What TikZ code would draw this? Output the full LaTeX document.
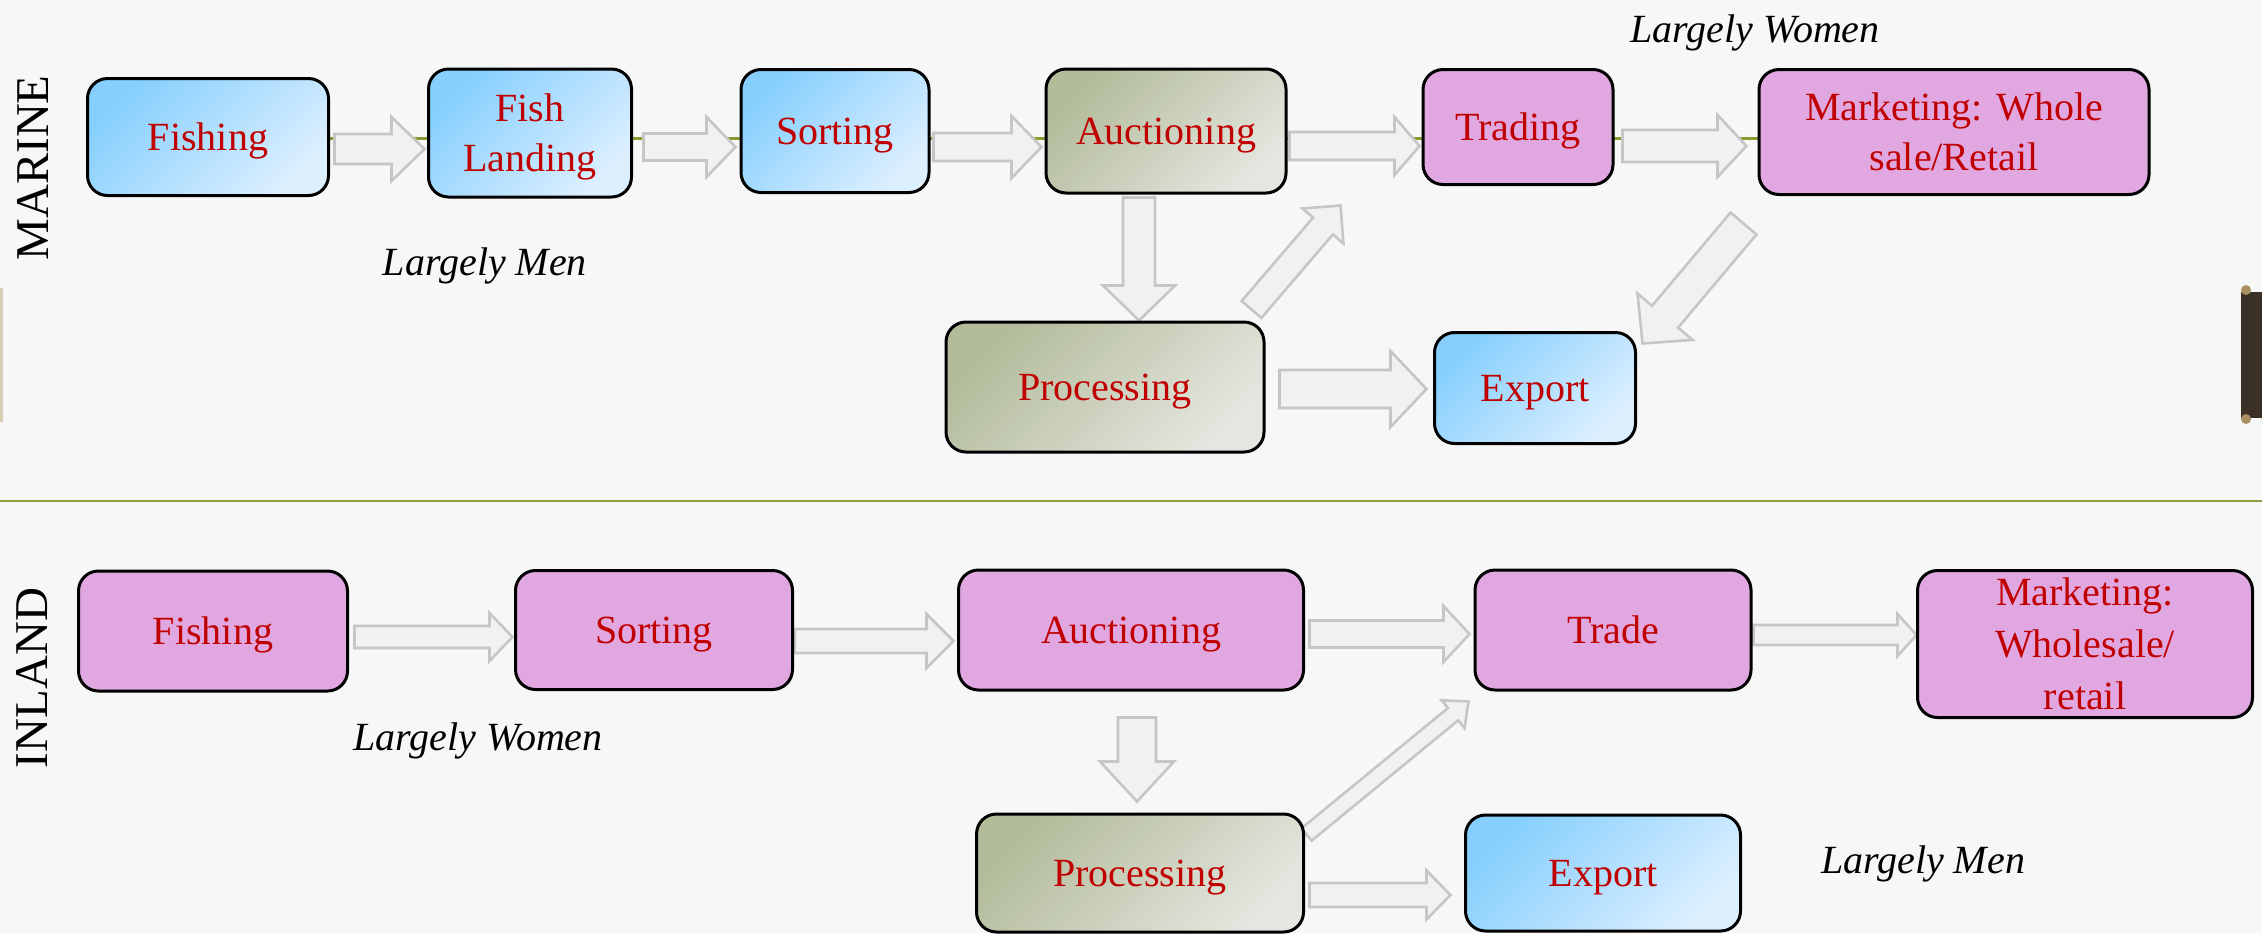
\documentclass[tikz,border=0pt]{standalone}
\usepackage{fontspec}
\setmainfont{Liberation Serif}
\usetikzlibrary{calc}
\definecolor{bgc}{HTML}{F7F7F7}
\definecolor{txtred}{HTML}{C00000}
\definecolor{blueA}{HTML}{86CFFD}
\definecolor{blueB}{HTML}{DCEFFF}
\definecolor{oliveA}{HTML}{B2BB9A}
\definecolor{oliveB}{HTML}{E4E6DF}
\definecolor{pinkc}{HTML}{E1A7E1}
\definecolor{arrfill}{HTML}{F1F1F1}
\definecolor{arrline}{HTML}{C6C6C6}
\definecolor{olivec}{HTML}{8A9A2E}
\definecolor{sepc}{HTML}{8E9E3C}
\definecolor{barc}{HTML}{3A3026}
\definecolor{tanc}{HTML}{A89060}
\definecolor{tanl}{HTML}{D9CDB3}
\pgfdeclarelayer{bg}
\pgfdeclarelayer{arr}
\pgfsetlayers{bg,arr,main}
\tikzset{
  box/.style={rectangle, rounded corners=10pt, draw=black, line width=1.5pt,
    text=txtred, font=\fontsize{20}{25}\selectfont, align=center, inner sep=1pt,
    text depth=0pt},
  bluebox/.style={box, top color=blueA, bottom color=blueB, shading angle=45},
  olivebox/.style={box, top color=oliveA, bottom color=oliveB, shading angle=45},
  pinkbox/.style={box, fill=pinkc},
  blockarrow/.style={fill=arrfill, draw=arrline, line width=1.3pt, line join=miter},
  note/.style={font=\fontsize{20}{24}\selectfont\itshape, anchor=base, inner sep=0pt},
  side/.style={font=\fontsize{23.5}{28}\selectfont, rotate=90, inner sep=0pt},
  sz/.style 2 args={minimum width=#1, minimum height=#2},
}
% #1 start, #2 tip, #3 shaft half width, #4 head half width, #5 head length
\newcommand\barrow[5]{%
  \coordinate (ba-s) at #1;
  \coordinate (ba-e) at #2;
  \coordinate (ba-h) at ($(ba-e)!#5!(ba-s)$);
  \draw[blockarrow]
    ($(ba-s)!#3!90:(ba-e)$) -- ($(ba-h)!#3!90:(ba-e)$) -- ($(ba-h)!#4!90:(ba-e)$)
    -- (ba-e)
    -- ($(ba-h)!#4!-90:(ba-e)$) -- ($(ba-h)!#3!-90:(ba-e)$) -- ($(ba-s)!#3!-90:(ba-e)$)
    -- cycle;
}
\begin{document}
\begin{tikzpicture}[x=0.5pt, y=-0.5pt]
\useasboundingbox (0,0) rectangle (2262,933);
\begin{pgfonlayer}{bg}
  \fill[bgc] (0,0) rectangle (2262,933);
  \coordinate (sepL) at (0,501);
  \coordinate (sepR) at (2262,501);
  \draw[sepc, line width=1.2pt] (sepL) -- (sepR);
  \fill[barc] (2241,292) rectangle (2262,418);
  \fill[tanc] (2246,290) circle (5);
  \fill[tanc] (2246,419) circle (5);
  \fill[tanl] (0,288) rectangle (3,422);
\end{pgfonlayer}

% Marine
\node[bluebox, sz={120.5pt}{58.5pt}] (mFish) at (208,137) {Fishing};
\node[bluebox, sz={101.5pt}{64pt}] (mLand) at (530,133) {Fish\\Landing};
\node[bluebox, sz={94pt}{61.5pt}] (mSort) at (835,131) {Sorting};
\node[olivebox, sz={120pt}{62pt}] (mAuc) at (1166,131) {Auctioning};
\node[pinkbox, sz={95pt}{57.5pt}] (mTrad) at (1518,127) {Trading};
\node[pinkbox, sz={195pt}{62.5pt}] (mMark) at (1954,132) {Marketing: Whole\\sale/Retail};
\node[olivebox, sz={159pt}{65pt}] (mProc) at (1105,387) {Processing};
\node[bluebox, sz={100.5pt}{55.5pt}] (mExp) at (1535,388) {Export};

% Inland
\node[pinkbox, sz={134.5pt}{60pt}] (iFish) at (213,631) {Fishing};
\node[pinkbox, sz={138.5pt}{59.5pt}] (iSort) at (654,630) {Sorting};
\node[pinkbox, sz={172.5pt}{60pt}] (iAuc) at (1131,630) {Auctioning};
\node[pinkbox, sz={138pt}{60pt}] (iTrade) at (1613,630) {Trade};
\node[pinkbox, sz={167.5pt}{73.5pt}, font=\fontsize{20}{26}\selectfont] (iMark) at (2085,644) {Marketing:\\Wholesale/\\retail};
\node[olivebox, sz={163.5pt}{59pt}] (iProc) at (1140,873) {Processing};
\node[bluebox, sz={137.5pt}{58pt}] (iExp) at (1603,873) {Export};

% labels
\node[side] (lMar) at (33,168) {MARINE};
\node[side] (lInl) at (32,678) {INLAND};
\node[note] (nMen1) at (485,275) {Largely Men};
\node[note] (nWom1) at (1755,42) {Largely Women};
\node[note] (nWom2) at (478,750) {Largely Women};
\node[note] (nMen2) at (1923,873) {Largely Men};

\begin{pgfonlayer}{arr}
  \draw[olivec, line width=1.5pt] ($(mFish.east)+(0,1)$) -- ($(mMark.west)+(0,6)$);
  % marine arrows
  \barrow{($(mFish.east)+(4.5,12)$)}{($(mLand.west)+(-2.5,16)$)}{7.5pt}{16pt}{16.5pt}
  \barrow{($(mLand.east)+(10.5,14)$)}{($(mSort.west)+(-4,16)$)}{6.75pt}{15pt}{14.5pt}
  \barrow{($(mSort.east)+(3,16)$)}{($(mAuc.west)+(-3,16)$)}{7pt}{15.5pt}{15pt}
  \barrow{($(mAuc.east)+(2,15)$)}{($(mTrad.west)+(-2,19)$)}{7pt}{14.5pt}{12.5pt}
  \barrow{($(mTrad.east)+(8,19)$)}{($(mMark.west)+(-11,14)$)}{8pt}{15.5pt}{14.5pt}
  \barrow{($(mAuc.south)+(-27,3)$)}{($(mProc.north)+(34,0)$)}{8pt}{18pt}{17.5pt}
  \barrow{($(mProc.north east)+(-14,-11)$)}{($(mTrad.south west)+(-81,19.5)$)}{6.5pt}{13.5pt}{13.5pt}
  \barrow{($(mMark.south west)+(-14,27.5)$)}{($(mExp.north east)+(5.5,12.5)$)}{8.5pt}{18pt}{17.5pt}
  \barrow{($(mProc.east)+(14,2)$)}{($(mExp.west)+(-6.5,1)$)}{9.5pt}{19pt}{18pt}
  % inland arrows
  \barrow{($(iFish.east)+(5.5,6)$)}{($(iSort.west)+(-1.5,7)$)}{5.5pt}{12pt}{11.5pt}
  \barrow{($(iSort.east)+(0.5,11)$)}{($(iAuc.west)+(-3.5,11)$)}{6pt}{13.5pt}{13.5pt}
  \barrow{($(iAuc.east)+(4.5,4)$)}{($(iTrade.west)+(-4,4)$)}{6.75pt}{14pt}{13pt}
  \barrow{($(iTrade.east)+(1,5)$)}{($(iMark.west)+(0.5,-9)$)}{5pt}{10.5pt}{9.5pt}
  \barrow{($(iAuc.south)+(6,26)$)}{($(iProc.north)+(-3,-11)$)}{9.5pt}{18.5pt}{20pt}
  \barrow{($(iProc.north east)+(1.5,22)$)}{($(iTrade.south west)+(-5,10)$)}{4pt}{9pt}{10pt}
  \barrow{($(iProc.east)+(4.5,22)$)}{($(iExp.west)+(-13.5,22)$)}{6pt}{12.25pt}{12pt}
\end{pgfonlayer}
\end{tikzpicture}
\end{document}
